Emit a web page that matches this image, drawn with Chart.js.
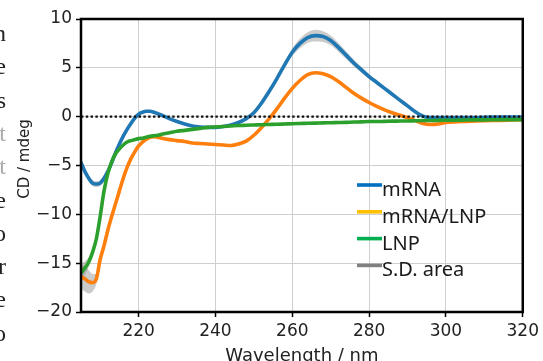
<!DOCTYPE html>
<html><head><meta charset="utf-8">
<style>html,body{margin:0;padding:0;background:#fff;}#wrap{width:543px;height:361px;position:relative;overflow:hidden;}</style>
<script src="https://cdn.jsdelivr.net/npm/chart.js@4/dist/chart.umd.min.js"></script>
</head><body><div id="wrap"><canvas id="c" width="543" height="361"></canvas></div>
<script>
const wavelengths = [205,206,207,208,209,210,211,212,213,214,215,216,217,218,219,220,221,222,223,224,225,226,
 228,230,232,234,236,238,240,242,244,246,248,250,252,254,256,258,260,262,264,266,268,270,272,274,276,278,280,282,284,286,288,290,292,294,296,298,300,
 304,308,312,316,320];
const mRNA = [-4.7,-5.6,-6.3,-6.8,-6.9,-6.8,-6.3,-5.6,-4.7,-3.7,-2.8,-2.0,-1.3,-0.7,-0.15,0.25,0.45,0.55,0.55,0.45,0.3,0.15,
 -0.2,-0.5,-0.75,-0.95,-1.05,-1.1,-1.1,-1.0,-0.85,-0.6,-0.2,0.4,1.4,2.6,3.9,5.3,6.6,7.5,8.1,8.3,8.2,7.8,7.1,6.3,5.5,4.8,4.1,3.5,2.9,2.3,1.7,1.1,0.5,0.05,-0.1,-0.1,-0.1,
 -0.1,-0.1,-0.05,-0.05,-0.05];
const mRNA_LNP = [-16.4,-16.6,-16.9,-17.0,-16.6,-14.6,-13.2,-11.6,-10.2,-8.9,-7.6,-6.3,-5.2,-4.3,-3.6,-3.0,-2.6,-2.3,-2.1,-2.05,-2.1,-2.2,
 -2.35,-2.45,-2.55,-2.7,-2.75,-2.8,-2.85,-2.9,-2.95,-2.8,-2.5,-1.9,-1.1,-0.2,0.8,1.9,2.9,3.7,4.3,4.5,4.4,4.1,3.6,3.0,2.4,1.9,1.45,1.05,0.7,0.4,0.15,-0.1,-0.4,-0.7,-0.8,-0.75,-0.6,
 -0.5,-0.45,-0.4,-0.35,-0.3];
const LNP = [-16.0,-15.5,-14.9,-13.9,-12.5,-10.2,-7.6,-5.8,-4.6,-3.8,-3.3,-2.9,-2.6,-2.45,-2.35,-2.25,-2.2,-2.1,-2.0,-1.95,-1.9,-1.8,
 -1.65,-1.5,-1.4,-1.3,-1.2,-1.1,-1.05,-1.0,-0.95,-0.9,-0.88,-0.85,-0.82,-0.8,-0.78,-0.75,-0.72,-0.7,-0.68,-0.66,-0.64,-0.62,-0.6,-0.58,-0.55,-0.53,-0.5,-0.5,-0.48,-0.46,-0.45,-0.44,-0.42,-0.4,-0.4,-0.38,-0.37,
 -0.35,-0.33,-0.32,-0.3,-0.3];
const sd_mRNA = [0.3,0.3,0.3,0.3,0.3,0.3,0.3,0.3,0.1,0.1,0.1,0.1,0.1,0.1,0.1,0.1,0.1,0.1,0.1,0.1,0.1,0.1,
 0.1,0.1,0.1,0.1,0.1,0.1,0.1,0.1,0.1,0.1,0.1,0.1,0.1,0.1,0.1,0.25,0.4,0.5,0.55,0.6,0.55,0.5,0.45,0.4,0.35,0.3,0.25,0.2,0.15,0.1,0.1,0.1,0.1,0.1,0.1,0.1,0.1,
 0.1,0.1,0.1,0.1,0.1];
const sd_mRNA_LNP = [1.2,1.3,1.2,0.9,0.5,0.3,0.2,0.1,0.1,0.1,0.1,0.1,0.1,0.1,0.1,0.1,0.1,0.1,0.1,0.1,0.1,0.1,
 0.1,0.1,0.1,0.1,0.1,0.1,0.1,0.1,0.1,0.1,0.1,0.1,0.1,0.1,0.1,0.1,0.1,0.1,0.1,0.1,0.1,0.1,0.1,0.1,0.1,0.1,0.1,0.1,0.1,0.1,0.1,0.1,0.1,0.1,0.1,0.1,0.1,
 0.1,0.1,0.1,0.1,0.1];
const sd_LNP = [0.9,0.7,0.5,0.3,0.2,0.1,0.1,0.1,0.1,0.1,0.1,0.1,0.1,0.1,0.1,0.1,0.1,0.1,0.1,0.1,0.1,0.1,
 0.1,0.1,0.1,0.1,0.1,0.1,0.1,0.1,0.1,0.1,0.1,0.1,0.1,0.1,0.1,0.1,0.1,0.1,0.1,0.1,0.1,0.1,0.1,0.1,0.1,0.1,0.1,0.1,0.1,0.1,0.1,0.1,0.1,0.1,0.1,0.1,0.1,
 0.1,0.1,0.1,0.1,0.1];
const xTicks = [220,240,260,280,300,320];
const yTicks = [-20,-15,-10,-5,0,5,10];
const legendLabels = ['mRNA','mRNA/LNP','LNP','S.D. area'];
const legendColors = ['#0070C0','#FFC000','#00B050','#808080'];
const lineColors = ['#1f77b4','#ff7f0e','#2ca02c'];
const xTitle = 'Wavelength / nm';
const yTitle = 'CD / mdeg';
const edgeChars = ['n','e','s','t','t','e','o','r','e','o'];

const pts = (arr) => wavelengths.map((w,i)=>({x:w,y:arr[i]}));
const band = (arr, sd, sign) => wavelengths.map((w,i)=>({x:w,y:arr[i]+sign*sd[i]}));
const SDC = 'rgba(140,140,140,0.45)';
function bandSets(arr, sd, ord){
  return [
    {data:band(arr,sd,-1),borderWidth:0,pointRadius:0,fill:false,order:ord,cubicInterpolationMode:'monotone'},
    {data:band(arr,sd,1),borderWidth:0,pointRadius:0,fill:'-1',backgroundColor:SDC,order:ord,cubicInterpolationMode:'monotone'}
  ];
}
const lineSet = (arr,color,ord)=>({data:pts(arr),borderColor:color,borderWidth:3.6,pointRadius:0,fill:false,order:ord,cubicInterpolationMode:'monotone',borderJoinStyle:'round',borderCapStyle:'round'});

const datasets = [
  ...bandSets(mRNA, sd_mRNA, 20),
  ...bandSets(mRNA_LNP, sd_mRNA_LNP, 20),
  ...bandSets(LNP, sd_LNP, 20),
  lineSet(mRNA, lineColors[0], 5),
  lineSet(mRNA_LNP, lineColors[1], 4),
  lineSet(LNP, lineColors[2], 3),
  {data:wavelengths.map(w=>({x:w,y:0})),borderColor:'#111',borderWidth:2.2,borderDash:[2.4,2.4],pointRadius:0,fill:false,order:0}
];

const decor = {
  id:'decor',
  afterDraw(chart){
    const ctx = chart.ctx, a = chart.chartArea;
    ctx.save();
    ctx.strokeStyle = '#000'; ctx.lineWidth = 2.5;
    ctx.strokeRect(a.left, a.top, a.right-a.left, a.bottom-a.top);
    ctx.fillStyle = '#222';
    ctx.font = '18px "DejaVu Sans"';
    ctx.textAlign = 'center'; ctx.textBaseline = 'alphabetic';
    ctx.fillText(xTitle, (a.left+a.right)/2, 361);
    ctx.save();
    ctx.translate(25, 159); ctx.rotate(-Math.PI/2);
    ctx.font = '15px "DejaVu Sans"'; ctx.textBaseline = 'middle';
    ctx.fillText(yTitle, 0, 0);
    ctx.restore();
    ctx.font = '20px "Noto Sans"'; ctx.textAlign = 'left'; ctx.textBaseline = 'alphabetic';
    legendLabels.forEach((t,i)=>{
      const y = 185 + i*26.8;
      ctx.strokeStyle = legendColors[i]; ctx.lineWidth = 3.6; ctx.lineCap='butt';
      ctx.beginPath(); ctx.moveTo(357,y); ctx.lineTo(382,y); ctx.stroke();
      ctx.fillStyle = '#1a1a1a';
      ctx.fillText(t, 382, y+11);
    });
    ctx.font = '24px "Liberation Serif"'; ctx.textAlign='right';
    edgeChars.forEach((c,i)=>{
      ctx.fillStyle = (i===3||i===4) ? '#aaa' : '#222';
      ctx.fillText(c, 6, 41 + i*33.3);
    });
    ctx.restore();
  }
};

const minus = v => String(v).replace('-', '\u2212');
new Chart(document.getElementById('c'), {
  type:'line',
  data:{datasets},
  options:{
    responsive:false, animation:false, devicePixelRatio:1,
    layout:{padding:{top:19,right:17.8,left:0,bottom:0}},
    plugins:{legend:{display:false},tooltip:{enabled:false}},
    scales:{
      x:{type:'linear',min:205,max:320,
        afterBuildTicks:s=>{s.ticks = xTicks.map(v=>({value:v}));},
        afterFit:s=>{s.height = 49;},
        grid:{color:'#cfcfcf',lineWidth:1,tickLength:5,tickColor:'#000',tickWidth:1.5},
        border:{display:false},
        ticks:{font:{family:'DejaVu Sans',size:17},color:'#222',padding:4,maxRotation:0,autoSkip:false,callback:minus}},
      y:{type:'linear',min:-20,max:10,
        afterBuildTicks:s=>{s.ticks = yTicks.map(v=>({value:v}));},
        afterFit:s=>{s.width = 81;},
        grid:{color:'#cfcfcf',lineWidth:1,tickLength:5,tickColor:'#000',tickWidth:1.5},
        border:{display:false},
        ticks:{font:{family:'DejaVu Sans',size:17},color:'#222',padding:4,autoSkip:false,callback:minus}}
    }
  },
  plugins:[decor]
});
</script></body></html>
